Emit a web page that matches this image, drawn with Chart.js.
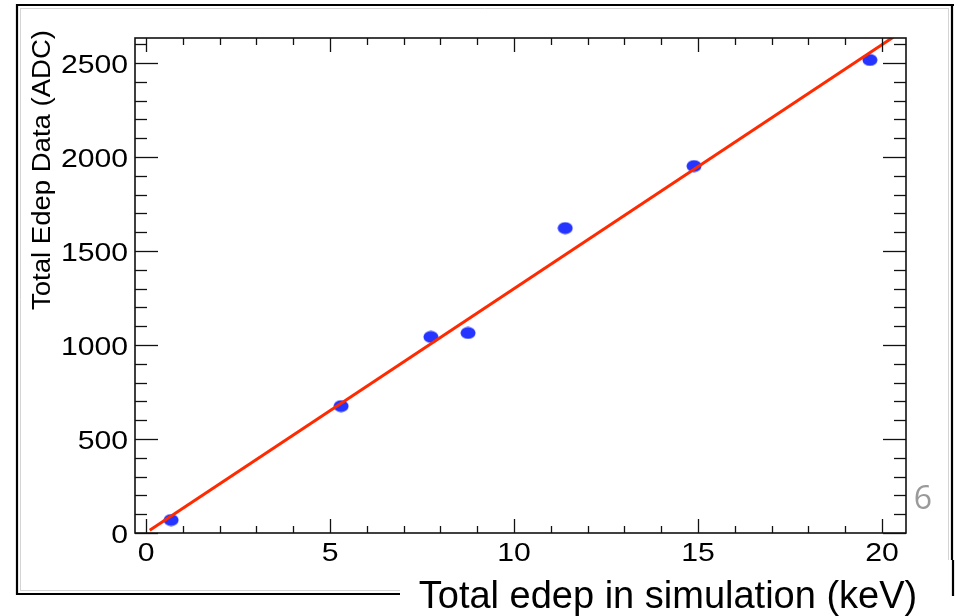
<!DOCTYPE html>
<html>
<head>
<meta charset="utf-8">
<script src="https://cdn.jsdelivr.net/npm/chart.js@4.4.1/dist/chart.umd.min.js"></script>
<style>
  html, body { margin: 0; padding: 0; background: #fff; }
  #wrap { width: 959px; height: 616px; }
</style>
</head>
<body>
<div id="wrap"><canvas id="calib" width="959" height="616"></canvas></div>
<script>
// =========================
// DATA
// =========================
const simEdep = [0.68, 5.3, 7.74, 8.75, 11.39, 14.89, 19.67];   // keV
const dataEdep = [69, 675, 1043, 1064, 1622, 1952, 2516];       // ADC

// linear fit drawn over the points
const fitSlope = 129.8;
const fitIntercept = 2;
const fitRange = [0.1, 20.3];

const xRange = [-0.3, 20.65];
const yRange = [0, 2633];
const xTickLabels = ["0", "5", "10", "15", "20"];
const yTickLabels = ["0", "500", "1000", "1500", "2000", "2500"];

const xTitle = "Total edep in simulation (keV)";
const yTitle = "Total Edep Data (ADC)";
const pageNumber = "6";

// =========================
// STYLE
// =========================
const FONT = "'Liberation Sans', Arial, Helvetica, sans-serif";
const POINT_COLOR = "rgb(38, 52, 255)";
const FIT_COLOR = "rgb(255, 42, 0)";

function ellipseMarker(w, h, color) {
  const c = document.createElement("canvas");
  c.width = w;
  c.height = h;
  const g = c.getContext("2d");
  g.fillStyle = color;
  g.beginPath();
  g.ellipse(w / 2, h / 2, w / 2 - 0.5, h / 2 - 0.5, 0, 0, Math.PI * 2);
  g.fill();
  return c;
}

function drawText(ctx, text, x, y, opts) {
  ctx.save();
  ctx.font = opts.font;
  ctx.fillStyle = opts.color || "#000";
  ctx.textAlign = opts.align || "center";
  ctx.textBaseline = opts.baseline || "alphabetic";
  ctx.translate(x, y);
  if (opts.rotate) ctx.rotate(opts.rotate);
  ctx.scale(opts.sx || 1, opts.sy || 1);
  ctx.fillText(text, 0, 0);
  ctx.restore();
}

function line(ctx, x1, y1, x2, y2) {
  ctx.beginPath();
  ctx.moveTo(x1, y1);
  ctx.lineTo(x2, y2);
  ctx.stroke();
}

// =========================
// ROOT-LIKE FRAME / TICKS
// =========================
const rootFrame = {
  id: "rootFrame",
  beforeDraw(chart) {
    const ctx = chart.ctx;
    ctx.save();
    ctx.fillStyle = "#fff";
    ctx.fillRect(0, 0, chart.width, chart.height);

    // slide border
    ctx.strokeStyle = "#d4d4d4";
    ctx.lineWidth = 1;
    line(ctx, 20, 8.5, 949, 8.5);
    line(ctx, 20.5, 8, 20.5, 591);
    line(ctx, 20, 590.5, 400, 590.5);
    line(ctx, 948.5, 8, 948.5, 560);

    ctx.strokeStyle = "#000";
    ctx.lineWidth = 2.2;
    line(ctx, 16, 5, 954, 5);
    line(ctx, 17, 4, 17, 595);
    line(ctx, 16, 594, 400, 594);
    line(ctx, 952, 4, 952, 560);
    line(ctx, 953, 560, 953, 596);
    ctx.restore();
  },
  afterDraw(chart) {
    const ctx = chart.ctx;
    const a = chart.chartArea;
    const x = chart.scales.x;
    const y = chart.scales.y;

    ctx.save();
    ctx.strokeStyle = "#111";
    ctx.lineWidth = 1.6;
    ctx.strokeRect(a.left, a.top, a.right - a.left, a.bottom - a.top);

    // x ticks, every 1 keV, major every 5
    ctx.lineWidth = 1.3;
    for (let v = 0; v <= xRange[1]; v += 1) {
      const px = Math.round(x.getPixelForValue(v)) + 0.5;
      const len = v % 5 === 0 ? 14 : 7;
      line(ctx, px, a.bottom, px, a.bottom - len);
      line(ctx, px, a.top, px, a.top + len);
    }

    // y ticks, every 100, major every 500
    for (let v = 0; v <= yRange[1]; v += 100) {
      const py = Math.round(y.getPixelForValue(v)) + 0.5;
      const len = v % 500 === 0 ? 23 : 12;
      line(ctx, a.left, py, a.left + len, py);
      line(ctx, a.right, py, a.right - len, py);
    }
    ctx.restore();

    const tickFont = "26px " + FONT;
    xTickLabels.forEach((t) => {
      drawText(ctx, t, x.getPixelForValue(Number(t)), 561, { font: tickFont, sx: 1.16 });
    });
    yTickLabels.forEach((t) => {
      drawText(ctx, t, 128, y.getPixelForValue(Number(t)) + 10, { font: tickFont, align: "right", sx: 1.16 });
    });

    // axis titles
    drawText(ctx, xTitle, 668, 608, { font: "38px " + FONT });

    ctx.save();
    ctx.font = "25px " + FONT;
    const yLen = ctx.measureText(yTitle).width;
    ctx.restore();
    drawText(ctx, yTitle, 50, 170, {
      font: "25px " + FONT,
      rotate: -Math.PI / 2,
      sx: 280 / yLen,
    });

    // slide page number
    drawText(ctx, pageNumber, 923, 509, { font: "32px 'Open Sans', " + FONT, color: "#9a9a9a" });
  },
};

// =========================
// CHART
// =========================
const points = simEdep.map((v, i) => ({ x: v, y: dataEdep[i] }));
const fitLine = fitRange.map((v) => ({ x: v, y: fitSlope * v + fitIntercept }));

new Chart(document.getElementById("calib"), {
  type: "scatter",
  data: {
    datasets: [
      {
        label: "data",
        data: points,
        order: 1,
        pointStyle: ellipseMarker(16, 13, POINT_COLOR),
        pointRadius: 7,
      },
      {
        type: "line",
        label: "fit",
        data: fitLine,
        order: 0,
        borderColor: FIT_COLOR,
        borderWidth: 3,
        pointRadius: 0,
        fill: false,
      },
    ],
  },
  options: {
    responsive: false,
    devicePixelRatio: 1,
    animation: false,
    layout: { padding: { left: 135, top: 38, right: 53, bottom: 83 } },
    plugins: { legend: { display: false }, tooltip: { enabled: false } },
    scales: {
      x: { type: "linear", min: xRange[0], max: xRange[1], display: false },
      y: { type: "linear", min: yRange[0], max: yRange[1], display: false },
    },
  },
  plugins: [rootFrame],
});
</script>
</body>
</html>
